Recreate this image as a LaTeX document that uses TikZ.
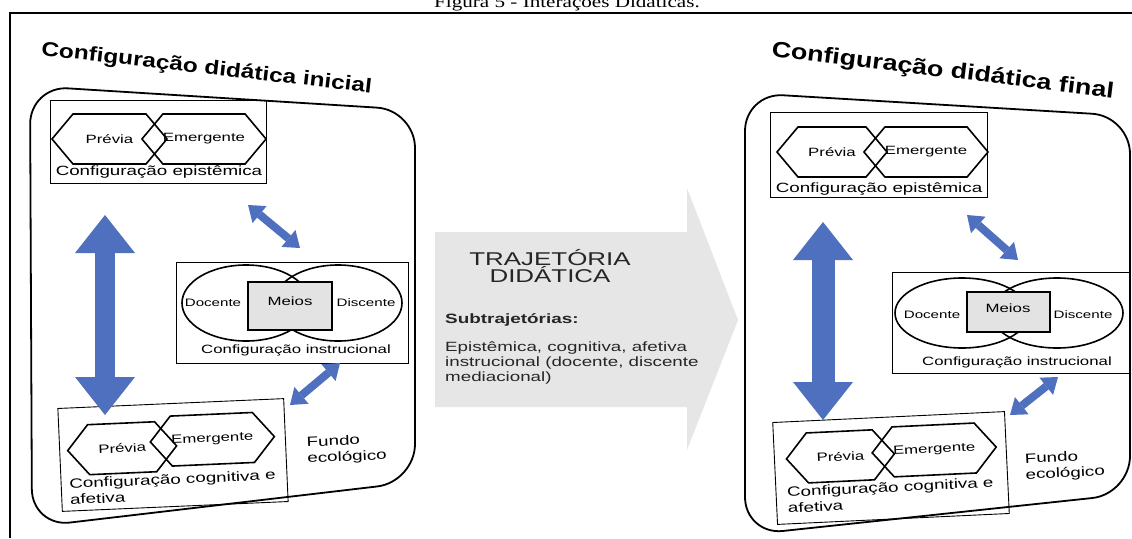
\documentclass[tikz,border=0pt]{standalone}
\usepackage{fontspec}
\setmainfont{Liberation Sans}[FakeStretch=1.4]
\newfontfamily\titlefont{Liberation Sans}[FakeStretch=1.22]
\newfontfamily\capfont{Liberation Serif}[FakeStretch=1.28]
\usetikzlibrary{shapes.geometric,shapes.symbols,arrows.meta}
\definecolor{arrowblue}{RGB}{79,112,190}
\definecolor{trajgray}{RGB}{230,230,230}

\begin{document}
\begin{tikzpicture}[x=1pt,y=-1pt]
\tikzstyle{hexa}=[draw, line width=1.6pt, signal, signal to=west and east, signal pointer angle=100, minimum width=110, minimum height=50, inner sep=0pt, font=\fontsize{12}{14}\selectfont]
\tikzstyle{cfgbox}=[draw, line width=0.9pt, inner sep=0pt]
\tikzstyle{lens}=[draw, ellipse, line width=1.6pt, minimum width=128, minimum height=76, inner sep=0pt]
\tikzstyle{meios}=[draw, fill=gray!22, line width=2pt, inner sep=0pt, minimum width=84, minimum height=48]
\tikzstyle{lbl}=[font=\fontsize{13.4}{16}\selectfont, inner sep=0pt]
\tikzstyle{small}=[font=\fontsize{10.8}{12}\selectfont, inner sep=0pt]
\tikzstyle{title}=[font=\titlefont\bfseries\fontsize{20}{22}\selectfont, inner sep=0pt, anchor=base]
\tikzstyle{bigarrow}=[arrowblue, line width=20pt, {Triangle[length=38pt,width=60pt,line width=0pt]}-{Triangle[length=38pt,width=60pt,line width=0pt]}]
\tikzstyle{thinarrow}=[arrowblue, line width=8pt, {Triangle[length=15pt,width=22pt,line width=0pt]}-{Triangle[length=15pt,width=22pt,line width=0pt]}]
\useasboundingbox (0,0) rectangle (1132,538);

\node[font=\capfont\fontsize{16.5}{18}\selectfont, anchor=base, inner sep=0pt] (cap) at (567,8) {Figura 5 - Interações Didáticas.};
\draw[line width=2pt] (10,538) -- (10,13) -- (1132,13);

\node[title, rotate=-6.5] (titL) at (206,74) {Configuração didática inicial};
\draw[line width=1.8pt, rounded corners=38] (30,86) -- (415,110) -- (415,482) -- (32,527) -- cycle;
\node[cfgbox, minimum width=216, minimum height=83] (epiL) at (158,141.5) {};
\node[hexa, minimum width=115] (prevL) at (109.5,139) {Prévia};
\node[hexa, minimum width=108] (emerL) at (204,139) {Emergente};
\node[lbl] (epiLt) at (159,172) {Configuração epistêmica};
\node[cfgbox, minimum width=232, minimum height=101] (insL) at (292,312.5) {};
\node[lens] (docL) at (246,303) {};
\node[lens] (disL) at (338,303) {};
\node[meios] (meiL) at (290,306) {};
\node[small, font=\fontsize{12}{13}\selectfont] (meiLt) at (290,301) {Meios};
\node[small] (docLt) at (213,303) {Docente};
\node[small] (disLt) at (366,303) {Discente};
\node[lbl, font=\fontsize{12}{13}\selectfont] (insLt) at (296,350) {Configuração instrucional};
\begin{scope}[rotate around={2.5:(173,455)}, transform shape]
\node[cfgbox, minimum width=226, minimum height=103] (cogL) at (173,455) {};
\node[hexa, minimum width=109, minimum height=50] (prevLc) at (122.5,446) {Prévia};
\node[hexa, minimum height=50] (emerLc) at (213,441) {Emergente};
\node[lbl, align=left, anchor=north west] (cogLt) at (68,474) {Configuração cognitiva e\\afetiva};
\node[lbl, align=left, anchor=west] (funL) at (307,457) {Fundo\\ecológico};
\end{scope}
\coordinate (aL1) at (105,215);
\coordinate (aL2) at (105,415);
\coordinate (aL3) at (248,205);
\coordinate (aL4) at (300,248);
\coordinate (aL5) at (340,363);
\coordinate (aL6) at (290,405);
\draw[bigarrow] (aL1) -- (aL2);
\draw[thinarrow] (aL3) -- (aL4);
\draw[thinarrow] (aL5) -- (aL6);

\fill[trajgray] (435,232) -- (687,232) -- (687,188) -- (738,320) -- (687,450) -- (687,407) -- (435,407) -- cycle;
\node[font=\fontsize{18.5}{17.5}\selectfont, align=center, text=black!85, inner sep=0pt] (traj) at (550,266) {TRAJETÓRIA\\DIDÁTICA};
\node[lbl, font=\bfseries\fontsize{13.5}{15}\selectfont, anchor=west, text=black!85] (subt) at (445,320) {Subtrajetórias:};
\node[lbl, font=\fontsize{13.4}{15}\selectfont, align=left, anchor=west, text=black!85] (subl) at (445,363) {Epistêmica, cognitiva, afetiva\\instrucional (docente, discente\\mediacional)};

\node[title, rotate=-7, font=\titlefont\bfseries\fontsize{22}{24}\selectfont] (titR) at (942,77) {Configuração didática final};
\draw[line width=1.8pt, rounded corners=38] (745,93) -- (1130,116) -- (1130,494) -- (745,535) -- cycle;
\node[cfgbox, minimum width=217, minimum height=85] (epiR) at (878.5,154.5) {};
\node[hexa] (prevR) at (832,152) {Prévia};
\node[hexa, minimum width=108] (emerR) at (926,152) {Emergente};
\node[lbl] (epiRt) at (879,189) {Configuração epistêmica};
\node[cfgbox, minimum width=238, minimum height=101] (insR) at (1011,322.5) {};
\node[lens, minimum width=134, minimum height=70] (docR) at (962,313) {};
\node[lens, minimum width=132, minimum height=70] (disR) at (1057,313) {};
\node[meios, minimum width=83, minimum height=40] (meiR) at (1008.5,312) {};
\node[small, font=\fontsize{12}{13}\selectfont] (meiRt) at (1008,308) {Meios};
\node[small] (docRt) at (932,315) {Docente};
\node[small] (disRt) at (1083,315) {Discente};
\node[lbl, font=\fontsize{12}{13}\selectfont] (insRt) at (1017,362) {Configuração instrucional};
\begin{scope}[rotate around={2.7:(891,468)}, transform shape]
\node[cfgbox, minimum width=232, minimum height=102] (cogR) at (891,468) {};
\node[hexa, minimum width=108, minimum height=50] (prevRc) at (841,454) {Prévia};
\node[hexa, minimum height=50] (emerRc) at (935,452) {Emergente};
\node[lbl, align=left, anchor=north west] (cogRt) at (786,482) {Configuração cognitiva e\\afetiva};
\node[lbl, align=left, anchor=west] (funR) at (1025,474) {Fundo\\ecológico};
\end{scope}
\coordinate (aR1) at (823,222);
\coordinate (aR2) at (823,420);
\coordinate (aR3) at (967,215);
\coordinate (aR4) at (1018,260);
\coordinate (aR5) at (1058,377);
\coordinate (aR6) at (1010,415);
\draw[bigarrow, line width=23pt] (aR1) -- (aR2);
\draw[thinarrow] (aR3) -- (aR4);
\draw[thinarrow] (aR5) -- (aR6);
\end{tikzpicture}
\end{document}
